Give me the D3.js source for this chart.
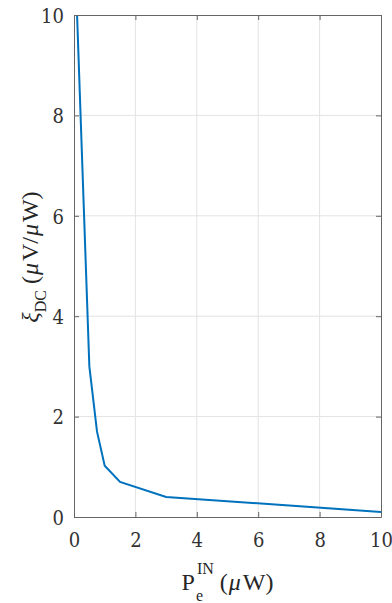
<!DOCTYPE html>
<html>
<head>
<meta charset="utf-8">
<script src="https://cdn.jsdelivr.net/npm/d3@7"></script>
<style>
  body { margin: 0; background: #fff; }
  svg { display: block; }
</style>
</head>
<body>
<div id="chart"></div>
<script>
// input power (uW) and conversion ratio
const powerIn = [0.1, 0.5, 0.75, 1, 1.5, 3, 10];
const xiDC = [10, 3.0, 1.7, 1.02, 0.7, 0.4, 0.1];
const xTicks = [0, 2, 4, 6, 8, 10];
const yTicks = [0, 2, 4, 6, 8, 10];

const FONT = "'Liberation Serif', 'Times New Roman', Times, serif";
// digits of the serif face are missing here, so tick numbers use DejaVu Serif
const TICK_FONT = "'DejaVu Serif Condensed', 'DejaVu Serif', serif";
const W = 392, H = 603;
const margin = {top: 15, right: 11, bottom: 86, left: 74};
const width = W - margin.left - margin.right;
const height = H - margin.top - margin.bottom;

const svg = d3.select("#chart").append("svg")
  .attr("width", W)
  .attr("height", H)
  .style("font-family", FONT);

const g = svg.append("g")
  .attr("transform", `translate(${margin.left},${margin.top})`);

const x = d3.scaleLinear().domain([0, 10]).range([0, width]);
const y = d3.scaleLinear().domain([0, 10]).range([height, 0]);

// grid
g.append("g").selectAll("line")
  .data(xTicks.slice(1, -1))
  .enter().append("line")
  .attr("x1", d => x(d)).attr("x2", d => x(d))
  .attr("y1", 0).attr("y2", height)
  .attr("stroke", "#e3e3e3").attr("stroke-width", 1);
g.append("g").selectAll("line")
  .data(yTicks.slice(1, -1))
  .enter().append("line")
  .attr("y1", d => y(d)).attr("y2", d => y(d))
  .attr("x1", 0).attr("x2", width)
  .attr("stroke", "#e3e3e3").attr("stroke-width", 1);

// clip for data
svg.append("defs").append("clipPath").attr("id", "clip")
  .append("rect").attr("width", width).attr("height", height);

const line = d3.line()
  .x((d, i) => x(powerIn[i]))
  .y(d => y(d));

g.append("path")
  .datum(xiDC)
  .attr("clip-path", "url(#clip)")
  .attr("fill", "none")
  .attr("stroke", "#0072BD")
  .attr("stroke-width", 2)
  .attr("d", line);

// axes (ticks inward, box on)
const axisColor = "#666";
const tickLen = 5;
function styleAxis(sel) {
  sel.attr("font-family", TICK_FONT).attr("font-size", 20);
  sel.select(".domain").attr("stroke", axisColor);
  sel.selectAll(".tick line").attr("stroke", axisColor);
  sel.selectAll("text")
    .attr("fill", "#333")
    .style("font-family", TICK_FONT)
    .style("font-size", "20px");
}

const xAxis = g.append("g")
  .attr("transform", `translate(0,${height})`)
  .call(d3.axisBottom(x).tickValues(xTicks).tickSizeInner(-tickLen).tickSizeOuter(0).tickPadding(16));
styleAxis(xAxis);

const yAxis = g.append("g")
  .call(d3.axisLeft(y).tickValues(yTicks).tickSizeInner(-tickLen).tickSizeOuter(0).tickPadding(10));
styleAxis(yAxis);
yAxis.selectAll("text").attr("dy", "0.36em");

const topAxis = g.append("g")
  .call(d3.axisTop(x).tickValues(xTicks).tickSizeInner(-tickLen).tickSizeOuter(0).tickFormat(""));
styleAxis(topAxis);

const rightAxis = g.append("g")
  .attr("transform", `translate(${width},0)`)
  .call(d3.axisRight(y).tickValues(yTicks).tickSizeInner(-tickLen).tickSizeOuter(0).tickFormat(""));
styleAxis(rightAxis);

// x label: P_e^IN (uW)
const xl = svg.append("g").attr("fill", "#262626");
const pText = xl.append("text").attr("y", 0).style("font-size", "24px").text("P");
const pW = pText.node().getComputedTextLength();
const supText = xl.append("text").attr("x", pW + 2).attr("y", -16).style("font-size", "16px").text("IN");
const supW = supText.node().getComputedTextLength();
xl.append("text").attr("x", pW + 1).attr("y", 11).style("font-size", "16px").text("e");
const restText = xl.append("text").attr("x", pW + supW + 8).attr("y", 0).style("font-size", "24px");
restText.append("tspan").text("(");
restText.append("tspan").attr("dx", 1).style("font-style", "italic").text("μ");
restText.append("tspan").attr("dx", 2).text("W)");
const totalW = pW + supW + 8 + restText.node().getComputedTextLength() + 3;
xl.attr("transform", `translate(${margin.left + width / 2 - totalW / 2},590)`);

// y label: xi_DC (uV/uW)
const yl = svg.append("text")
  .attr("fill", "#262626")
  .style("font-size", "24px")
  .attr("text-anchor", "middle")
  .attr("transform", `translate(38,257) rotate(-90)`);
yl.append("tspan").style("font-style", "italic").text("ξ");
yl.append("tspan").attr("dy", 8).style("font-size", "16px").text("DC");
yl.append("tspan").attr("dy", -8).text(" (");
yl.append("tspan").attr("dx", 1).style("font-style", "italic").text("μ");
yl.append("tspan").attr("dx", 2).text("V/");
yl.append("tspan").attr("dx", 1).style("font-style", "italic").text("μ");
yl.append("tspan").attr("dx", 2).text("W)");
</script>
</body>
</html>
